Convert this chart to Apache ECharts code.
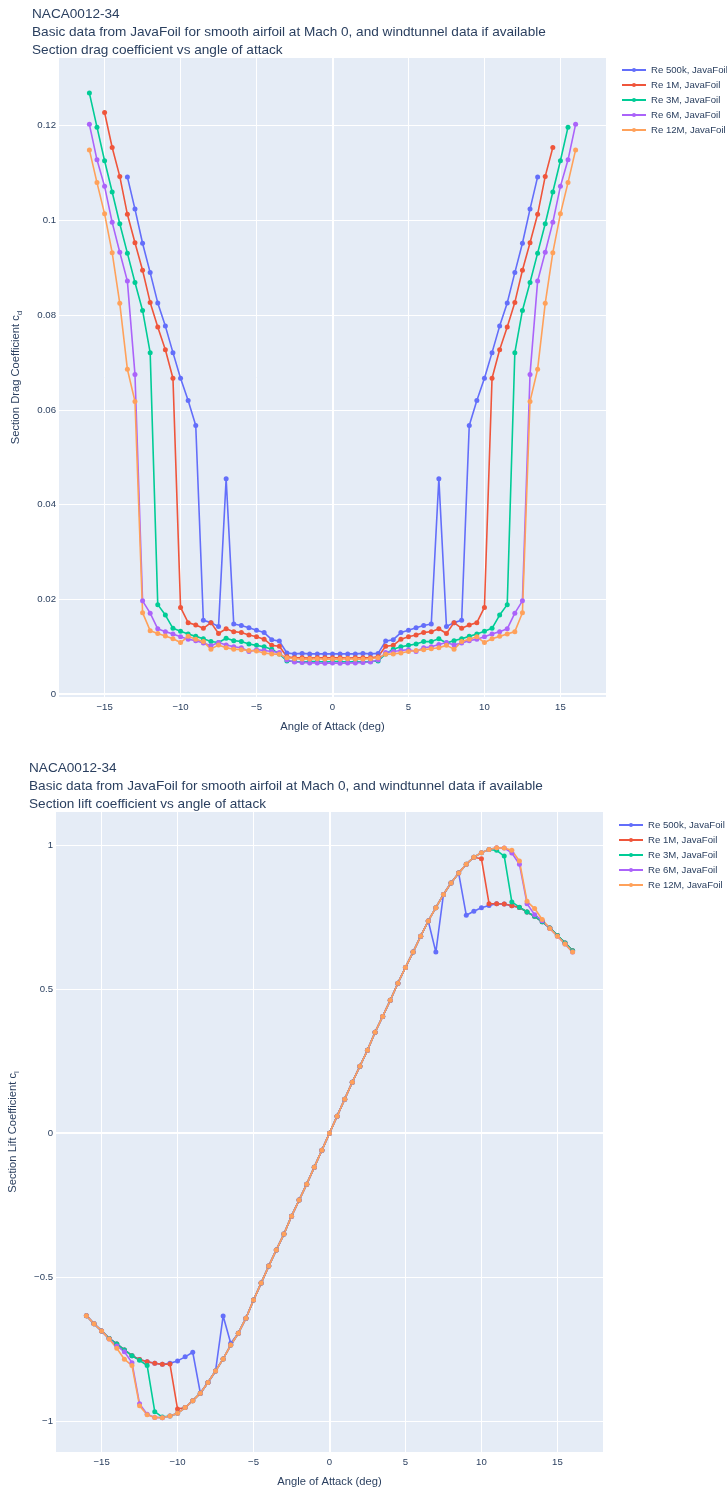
<!DOCTYPE html>
<html><head><meta charset="utf-8">
<script src="https://cdn.jsdelivr.net/npm/echarts@6/dist/echarts.min.js"></script>
<style>html,body{margin:0;padding:0;background:#fff}#c{width:727px;height:1490px}</style>
</head><body><div id="c"></div>
<script>
const angles = [-16,-15.5,-15,-14.5,-14,-13.5,-13,-12.5,-12,-11.5,-11,-10.5,-10,-9.5,-9,-8.5,-8,-7.5,-7,-6.5,-6,-5.5,-5,-4.5,-4,-3.5,-3,-2.5,-2,-1.5,-1,-0.5,0,0.5,1,1.5,2,2.5,3,3.5,4,4.5,5,5.5,6,6.5,7,7.5,8,8.5,9,9.5,10,10.5,11,11.5,12,12.5,13,13.5,14,14.5,15,15.5,16];
const seriesNames = ['Re 500k, JavaFoil','Re 1M, JavaFoil','Re 3M, JavaFoil','Re 6M, JavaFoil','Re 12M, JavaFoil'];

const cd500k = [null,null,null,null,null,
 0.1092,0.1024,0.0952,0.0890,0.0826,0.0777,0.0721,0.0667,0.0620,0.0567,0.0156,0.0151,0.0143,0.0455,0.0148,0.0145,0.0140,0.0135,0.0130,0.0115,0.0112,0.0087,
 0.0085,0.0086,0.0085,0.0085,0.0085,0.0085,0.0085,0.0085,0.0085,0.0086,0.0085,
 0.0086,0.0112,0.0115,0.0130,0.0135,0.0140,0.0145,0.0148,0.0455,0.0143,0.0151,0.0156,0.0567,0.0620,0.0667,0.0721,0.0777,0.0826,0.0890,0.0952,0.1024,0.1092,
 null,null,null,null,null];
const cd1M = [null,null,
 0.1228,0.1154,0.1093,0.1013,0.0953,0.0895,0.0827,0.0775,0.0727,0.0667,0.0183,0.0151,0.0146,0.0139,0.0151,0.0128,0.0138,0.0132,0.0130,0.0125,0.0121,0.0116,0.0103,0.0101,0.0079,
 0.0077,0.0077,0.0076,0.0077,0.0077,0.0077,0.0077,0.0076,0.0077,0.0077,0.0077,
 0.0079,0.0101,0.0103,0.0116,0.0121,0.0125,0.0130,0.0132,0.0138,0.0128,0.0151,0.0139,0.0146,0.0151,0.0183,0.0667,0.0727,0.0775,0.0827,0.0895,0.0953,0.1013,0.1093,0.1154,
 null,null,null];
const cd3M = [
 0.1269,0.1197,0.1126,0.1060,0.0993,0.0931,0.0869,0.0810,0.0721,0.0189,0.0167,0.0139,0.0133,0.0127,0.0122,0.0117,0.0111,0.0109,0.0118,0.0113,0.0111,0.0106,0.0103,0.0100,0.0095,0.0085,0.0070,
 0.0069,0.0068,0.0069,0.0069,0.0068,0.0069,0.0069,0.0068,0.0069,0.0068,0.0069,
 0.0070,0.0085,0.0095,0.0100,0.0103,0.0106,0.0111,0.0111,0.0117,0.0108,0.0113,0.0117,0.0122,0.0127,0.0133,0.0139,0.0167,0.0189,0.0721,0.0810,0.0869,0.0931,0.0993,0.1060,0.1126,0.1197,
 null];
const cd6M = [
 0.1203,0.1128,0.1072,0.0996,0.0933,0.0872,0.0675,0.0197,0.0171,0.0138,0.0132,0.0127,0.0121,0.0116,0.0113,0.0108,0.0102,0.0109,0.0104,0.0100,0.0098,0.0090,0.0094,0.0092,0.0090,0.0088,0.0072,
 0.0068,0.0067,0.0066,0.0066,0.0065,0.0066,0.0065,0.0066,0.0066,0.0067,0.0068,
 0.0072,0.0088,0.0090,0.0092,0.0094,0.0090,0.0098,0.0100,0.0105,0.0109,0.0104,0.0108,0.0113,0.0116,0.0121,0.0127,0.0132,0.0138,0.0171,0.0197,0.0675,0.0872,0.0933,0.0996,0.1072,0.1128,0.1203];
const cd12M = [
 0.1149,0.1080,0.1014,0.0932,0.0825,0.0686,0.0618,0.0172,0.0134,0.0128,0.0123,0.0117,0.0109,0.0122,0.0116,0.0111,0.0095,0.0104,0.0098,0.0095,0.0094,0.0092,0.0091,0.0087,0.0085,0.0084,0.0077,
 0.0075,0.0074,0.0074,0.0075,0.0074,0.0074,0.0074,0.0075,0.0074,0.0074,0.0075,
 0.0077,0.0084,0.0085,0.0087,0.0090,0.0092,0.0094,0.0096,0.0098,0.0103,0.0095,0.0111,0.0116,0.0121,0.0109,0.0117,0.0122,0.0127,0.0132,0.0172,0.0618,0.0686,0.0825,0.0932,0.1014,0.1080,0.1149];

const cl500k = [
 -0.633,-0.661,-0.686,-0.712,-0.731,-0.752,-0.772,-0.785,-0.793,-0.798,-0.802,-0.798,-0.790,-0.776,-0.760,-0.902,-0.865,-0.825,-0.634,-0.729,-0.694,-0.642,-0.579,-0.520,-0.461,-0.405,-0.350,-0.288,-0.232,-0.177,-0.118,-0.059,
 0,
 0.059,0.118,0.177,0.232,0.288,0.350,0.405,0.461,0.520,0.575,0.628,0.683,0.736,0.628,0.828,0.868,0.902,0.756,0.770,0.782,0.790,0.796,0.795,0.789,0.783,0.767,0.752,0.733,0.712,0.686,0.660,0.633];
const cl1M = [
 -0.633,-0.661,-0.686,-0.712,-0.731,-0.752,-0.772,-0.785,-0.793,-0.798,-0.802,-0.801,-0.957,-0.952,-0.928,-0.902,-0.865,-0.825,-0.783,-0.735,-0.694,-0.642,-0.579,-0.520,-0.461,-0.405,-0.350,-0.288,-0.232,-0.177,-0.118,-0.059,
 0,
 0.059,0.118,0.177,0.232,0.288,0.350,0.405,0.461,0.520,0.575,0.628,0.683,0.736,0.782,0.828,0.868,0.902,0.933,0.957,0.952,0.796,0.796,0.795,0.789,0.783,0.767,0.752,0.733,0.712,0.686,0.660,0.633];
const cl3M = [
 -0.633,-0.661,-0.686,-0.712,-0.731,-0.752,-0.772,-0.788,-0.806,-0.966,-0.985,-0.981,-0.972,-0.952,-0.928,-0.902,-0.865,-0.825,-0.783,-0.735,-0.694,-0.642,-0.579,-0.520,-0.461,-0.405,-0.350,-0.288,-0.232,-0.177,-0.118,-0.059,
 0,
 0.059,0.118,0.177,0.232,0.288,0.350,0.405,0.461,0.520,0.575,0.628,0.683,0.736,0.782,0.828,0.868,0.902,0.933,0.957,0.973,0.984,0.981,0.961,0.802,0.784,0.767,0.752,0.733,0.712,0.686,0.660,0.633];
const cl6M = [
 -0.633,-0.661,-0.686,-0.714,-0.738,-0.758,-0.796,-0.939,-0.975,-0.986,-0.987,-0.981,-0.972,-0.952,-0.928,-0.902,-0.865,-0.825,-0.783,-0.735,-0.694,-0.642,-0.579,-0.520,-0.461,-0.405,-0.350,-0.288,-0.232,-0.177,-0.118,-0.059,
 0,
 0.059,0.118,0.177,0.232,0.288,0.350,0.405,0.461,0.520,0.575,0.628,0.683,0.736,0.782,0.828,0.868,0.902,0.933,0.957,0.973,0.984,0.990,0.989,0.972,0.933,0.796,0.758,0.737,0.710,0.683,0.656,0.628];
const cl12M = [
 -0.633,-0.661,-0.686,-0.714,-0.746,-0.784,-0.806,-0.946,-0.977,-0.986,-0.987,-0.981,-0.972,-0.952,-0.928,-0.902,-0.865,-0.825,-0.783,-0.735,-0.694,-0.642,-0.579,-0.520,-0.461,-0.405,-0.350,-0.288,-0.232,-0.177,-0.118,-0.059,
 0,
 0.059,0.118,0.177,0.232,0.288,0.350,0.405,0.461,0.520,0.575,0.628,0.683,0.736,0.782,0.828,0.868,0.902,0.933,0.957,0.973,0.984,0.990,0.989,0.981,0.944,0.804,0.779,0.741,0.710,0.683,0.656,0.628];

const xTicks = [-15,-10,-5,0,5,10,15];
const cdTicks = [0,0.02,0.04,0.06,0.08,0.1,0.12];
const clTicks = [-1,-0.5,0,0.5,1];
const dragTitle = ['NACA0012-34','Basic data from JavaFoil for smooth airfoil at Mach 0, and windtunnel data if available','Section drag coefficient vs angle of attack'];
const liftTitle = ['NACA0012-34','Basic data from JavaFoil for smooth airfoil at Mach 0, and windtunnel data if available','Section lift coefficient vs angle of attack'];
const xName = 'Angle of Attack (deg)';

const colors = ['#636efa','#EF553B','#00cc96','#ab63fa','#FFA15A'];
const FONT = '"Liberation Sans", Arial, sans-serif';
const TXT = '#2a3f5f';
const minus = v => String(v).replace('-', '\u2212');
const pairs = vals => angles.map((a, i) => [a, vals[i]]).filter(p => p[1] !== null);

function xAxis(gi) {
  return {
    type: 'value', gridIndex: gi, min: -18, max: 18,
    name: xName, nameLocation: 'middle', nameGap: 24,
    nameTextStyle: { fontFamily: FONT, fontSize: 11.2, color: TXT },
    axisLine: { show: false },
    axisTick: { show: false, customValues: xTicks },
    axisLabel: { customValues: xTicks, fontFamily: FONT, fontSize: 9.6, color: TXT, margin: 5, formatter: minus },
    splitLine: { show: true, lineStyle: { color: '#ffffff', width: 1 } }
  };
}
function yAxis(gi, min, max, ticks, base, sub) {
  return {
    type: 'value', gridIndex: gi, min: min, max: max,
    name: base + '{s|' + sub + '}', nameLocation: 'middle', nameGap: 35, nameRotate: 90,
    nameTextStyle: { fontFamily: FONT, fontSize: 11.2, color: TXT, lineHeight: 16,
      rich: { s: { fontFamily: FONT, fontSize: 8, color: TXT, verticalAlign: 'bottom', lineHeight: 16 } } },
    axisLine: { show: false },
    axisTick: { show: false, customValues: ticks },
    axisLabel: { customValues: ticks, fontFamily: FONT, fontSize: 9.6, color: TXT, margin: 3, formatter: minus },
    splitLine: { show: true, lineStyle: { color: '#ffffff', width: 1 } }
  };
}

const dragSets = [cd500k, cd1M, cd3M, cd6M, cd12M];
const liftSets = [cl500k, cl1M, cl3M, cl6M, cl12M];
const series = [];
function addSeries(sets, gi) {
  sets.forEach((vals, k) => {
    const s = {
      type: 'line', name: seriesNames[k], xAxisIndex: gi, yAxisIndex: gi,
      data: pairs(vals), symbol: 'circle', symbolSize: 5, showSymbol: true,
      lineStyle: { width: 1.6, color: colors[k] }, itemStyle: { color: colors[k] },
      emphasis: { disabled: true }, animation: false, z: 2
    };
    if (k === 0) {
      s.markLine = { silent: true, symbol: ['none', 'none'], label: { show: false }, z: 1, animation: false,
        lineStyle: { color: '#ffffff', width: 2, type: 'solid' }, emphasis: { disabled: true },
        data: [{ xAxis: 0 }, { yAxis: 0 }] };
    }
    series.push(s);
  });
}
addSeries(dragSets, 0);
addSeries(liftSets, 1);

const legendBase = {
  orient: 'vertical', itemGap: 0, itemWidth: 24, itemHeight: 5, padding: 0,
  textStyle: { fontFamily: FONT, fontSize: 9.6, color: TXT, lineHeight: 15 }, data: seriesNames, selectedMode: false
};
const titleStyle = { fontFamily: FONT, fontSize: 13.6, fontWeight: 'normal', color: TXT, lineHeight: 18 };

const chart = echarts.init(document.getElementById('c'), null, { renderer: 'canvas' });
chart.setOption({
  animation: false,
  backgroundColor: '#ffffff',
  title: [
    { text: dragTitle.join('\n'), left: 32, top: 5, padding: 0, textStyle: titleStyle },
    { text: liftTitle.join('\n'), left: 29, top: 759, padding: 0, textStyle: titleStyle }
  ],
  legend: [
    Object.assign({}, legendBase, { left: 621, top: 62.5 }),
    Object.assign({}, legendBase, { left: 618, top: 817.5 })
  ],
  grid: [
    { left: 59, top: 58, width: 547, height: 639, show: true, backgroundColor: '#E5ECF6', borderWidth: 0, containLabel: false, outerBoundsMode: 'none' },
    { left: 56, top: 812, width: 547, height: 640, show: true, backgroundColor: '#E5ECF6', borderWidth: 0, containLabel: false, outerBoundsMode: 'none' }
  ],
  xAxis: [xAxis(0), xAxis(1)],
  yAxis: [
    yAxis(0, -0.0006, 0.1343, cdTicks, 'Section Drag Coefficient c', 'd'),
    yAxis(1, -1.106, 1.114, clTicks, 'Section Lift Coefficient c', 'l')
  ],
  series: series
});
</script>
</body></html>
